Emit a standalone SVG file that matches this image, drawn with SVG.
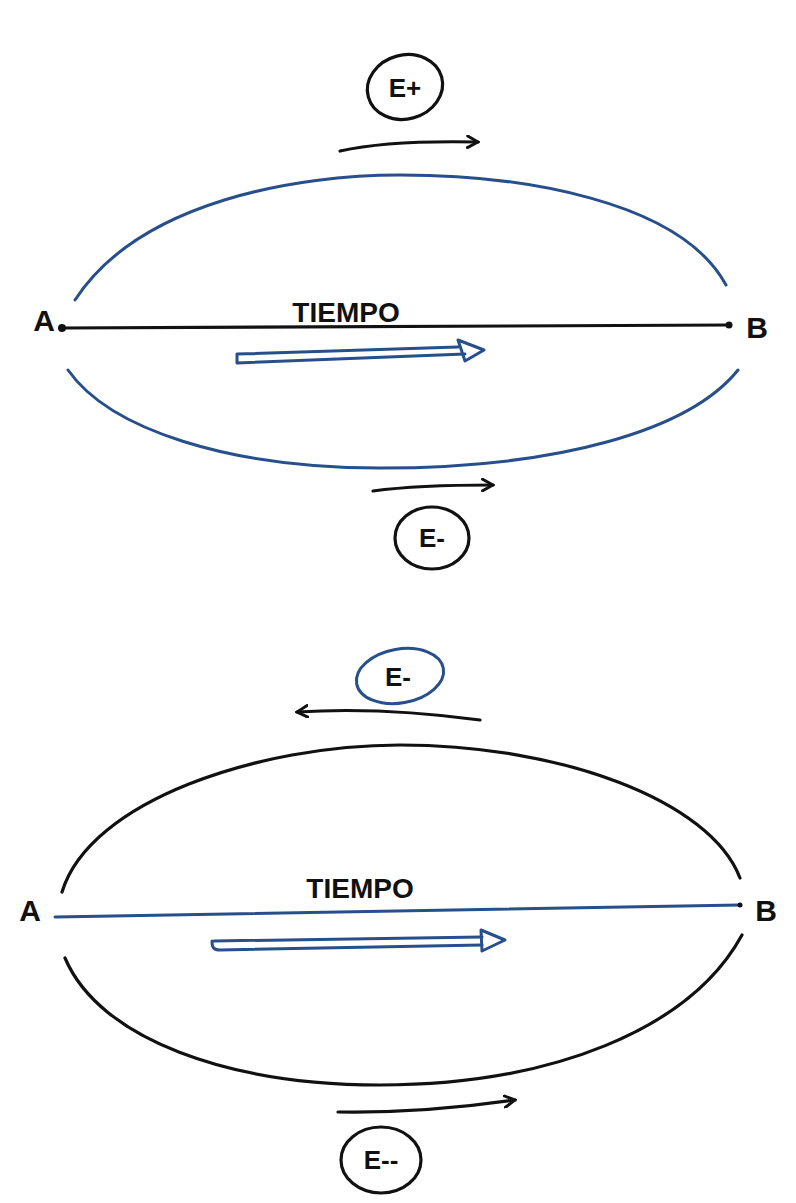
<svg xmlns="http://www.w3.org/2000/svg" width="796" height="1203" viewBox="0 0 796 1203">
<defs>
<style>
.k{fill:none;stroke:#111;stroke-width:3.2;stroke-linecap:round;stroke-linejoin:round}
.b{fill:none;stroke:#274f8c;stroke-width:3;stroke-linecap:round;stroke-linejoin:round}
.lbl{font-family:"Liberation Sans",Arial,sans-serif;font-weight:bold;fill:#111}
.pt{font-size:30px}
.tm{font-size:28px}
.el{font-size:26px}
</style>
<marker id="ah" viewBox="0 0 12 12" refX="10" refY="6" markerWidth="14" markerHeight="14" markerUnits="userSpaceOnUse" orient="auto">
<path d="M1,1 L10,6 L1,11" fill="none" stroke="#111" stroke-width="2.5" stroke-linecap="round"/>
</marker>
</defs>
<rect width="796" height="1203" fill="#fff"/>

<g id="connectors">
<!-- top diagram -->
<path class="b" d="M75,300 C140,200 300,175 400,175 C520,175 680,200 726,285"/>
<path class="k" d="M62,328 L730,325"/>
<path class="b" d="M68,370 C110,430 230,468 380,468 C560,468 690,430 738,370"/>
<path class="k" d="M340,151 C380,142 430,141 478,142" marker-end="url(#ah)"/>
<path class="k" d="M373,491 C410,486 450,485 493,485" marker-end="url(#ah)"/>
<path class="b" d="M237,354 L237,363 L465,354 M237,354 L458,347"/>
<path class="b" d="M458,340 L484,350 L465,361 Z"/>
<!-- bottom diagram -->
<path class="k" d="M62,892 C90,800 260,745 400,745 C560,745 710,800 740,878"/>
<path class="b" d="M55,917 L740,905"/>
<path class="k" d="M65,958 C100,1040 230,1085 380,1085 C550,1085 690,1030 742,935"/>
<path class="k" d="M480,720 C420,712 360,708 297,712" marker-end="url(#ah)"/>
<path class="k" d="M338,1112 C400,1113 460,1108 515,1100" marker-end="url(#ah)"/>
<path class="b" d="M212,941 C212,948 214,950 220,950 L482,945 M214,941 L482,937"/>
<path class="b" d="M481,930 L505,940 L482,951 Z"/>
</g>

<g id="pointA1"><circle cx="62" cy="328" r="4" fill="#111"/><text class="lbl pt" x="44" y="331" text-anchor="middle">A</text></g>
<g id="pointB1"><circle cx="729" cy="325" r="3.5" fill="#111"/><text class="lbl pt" x="757" y="338" text-anchor="middle">B</text></g>
<g id="tiempo1"><text class="lbl tm" x="346" y="322" text-anchor="middle">TIEMPO</text></g>
<g id="eplus"><ellipse cx="405" cy="87" rx="38" ry="32" transform="rotate(-15 405 87)" class="k"/><text class="lbl el" x="405" y="97" text-anchor="middle">E+</text></g>
<g id="eminus1"><ellipse cx="432" cy="538" rx="37" ry="31" class="k"/><text class="lbl el" x="432" y="547" text-anchor="middle">E-</text></g>

<g id="pointA2"><text class="lbl pt" x="30" y="921" text-anchor="middle">A</text></g>
<g id="pointB2"><circle cx="740" cy="905" r="2.5" fill="#111"/><text class="lbl pt" x="766" y="921" text-anchor="middle">B</text></g>
<g id="tiempo2"><text class="lbl tm" x="360" y="898" text-anchor="middle">TIEMPO</text></g>
<g id="eminus2"><ellipse cx="400" cy="676" rx="44" ry="27" transform="rotate(-10 400 676)" class="b"/><text class="lbl el" x="398" y="686" text-anchor="middle">E-</text></g>
<g id="eminus3"><ellipse cx="381" cy="1160" rx="40" ry="33" class="k"/><text class="lbl el" x="381" y="1169" text-anchor="middle">E--</text></g>
</svg>
